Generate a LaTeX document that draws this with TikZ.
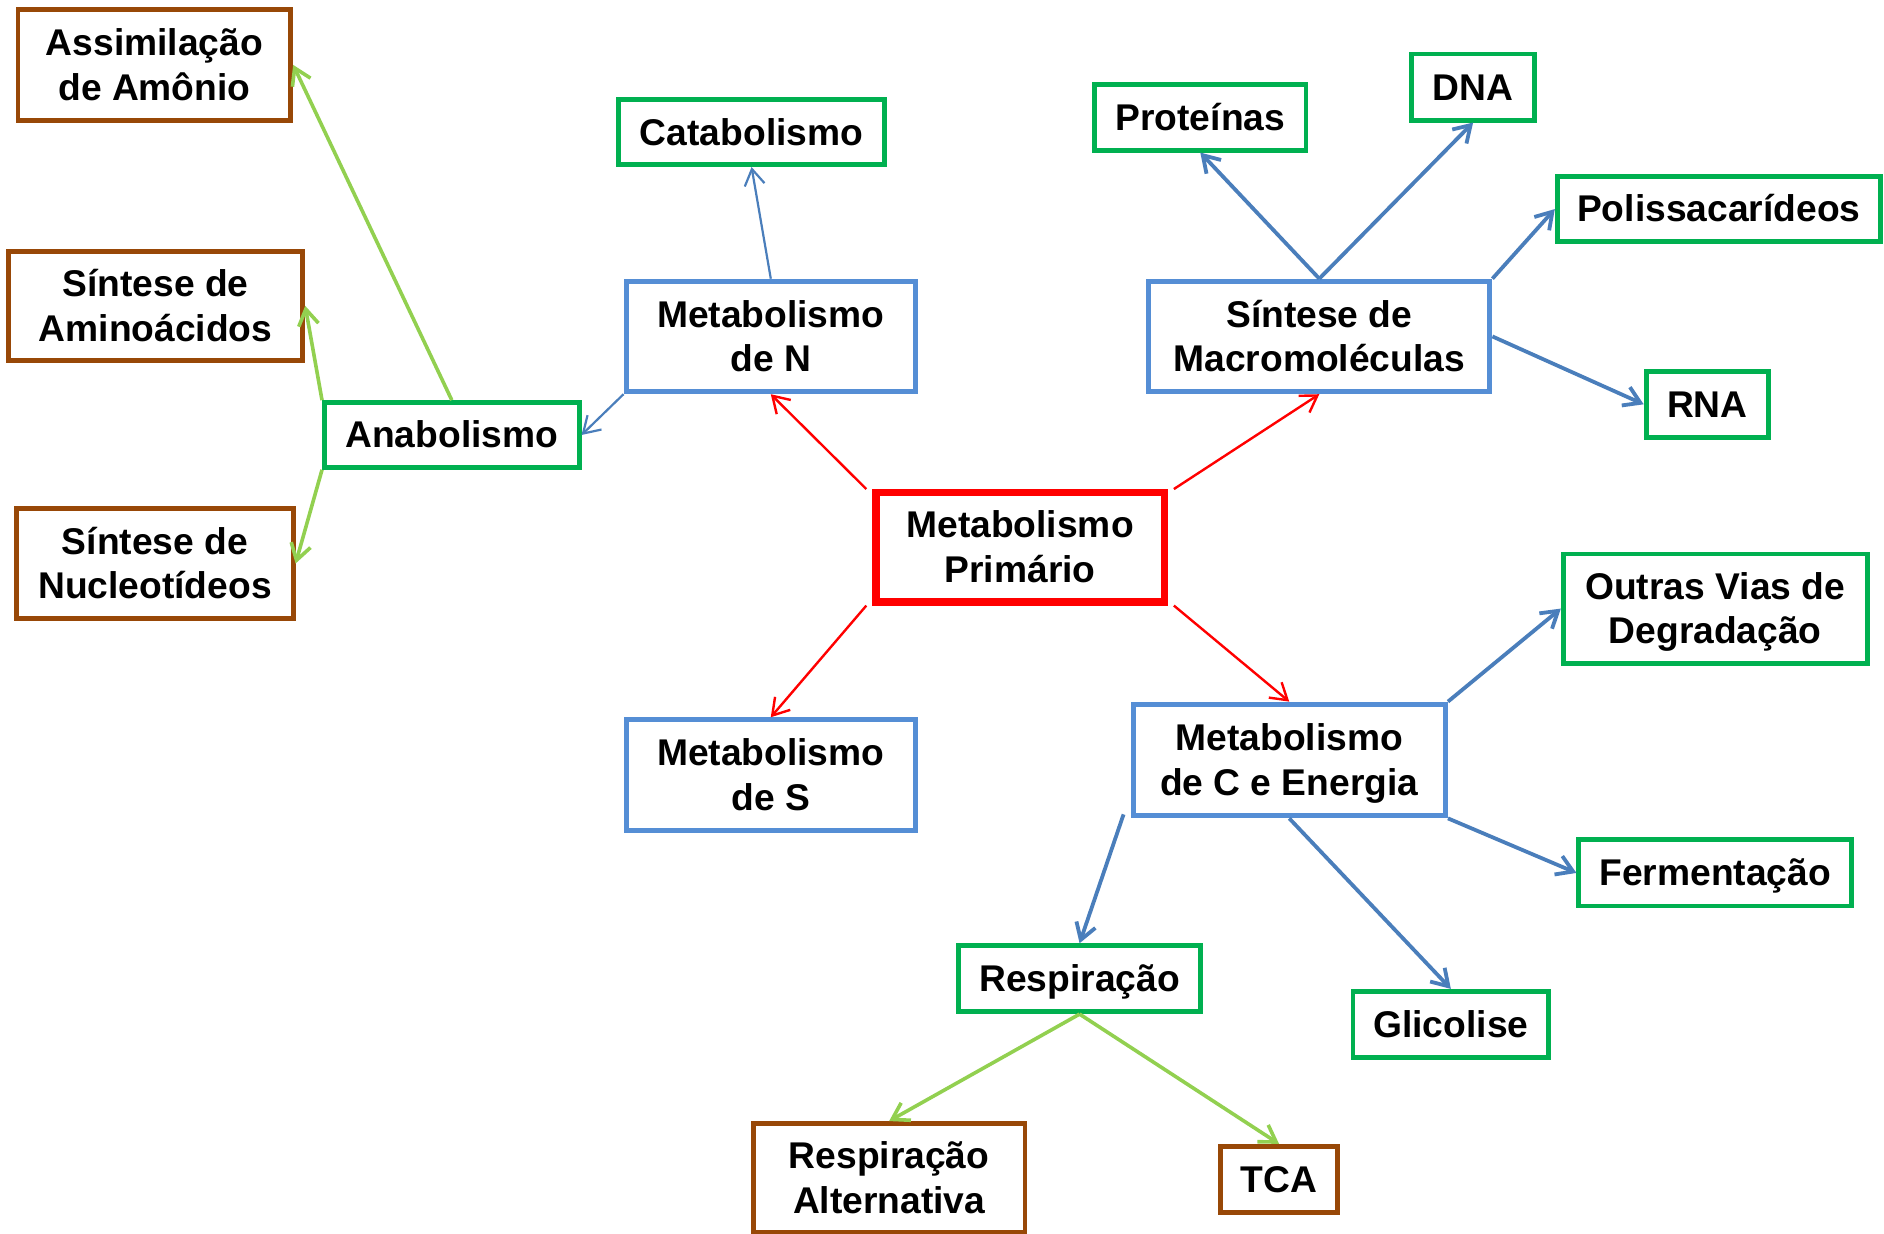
\documentclass[tikz,border=0pt]{standalone}
\usepackage{fontspec}
\setmainfont{Liberation Sans}
\usetikzlibrary{arrows.meta}
\definecolor{cblue}{HTML}{558ED5}
\definecolor{cblueline}{HTML}{4A7EBB}
\definecolor{cgreen}{HTML}{00B050}
\definecolor{cbrown}{HTML}{984807}
\definecolor{clgreen}{HTML}{92D050}
\definecolor{cred}{HTML}{FF0000}
\newcommand\bx[7]{\node[#6, minimum width={(#4-#2)*0.6008pt}, minimum height={(#5-#3)*0.6008pt}] (#1) at ({(#2+#4)/2},{(#3+#5)/2}) {\raisebox{-2pt}[\height][\depth]{\begin{tabular}{@{}c@{}}#7\end{tabular}}};}
\tikzset{
  box/.style={draw, rectangle, inner sep=0pt, font=\fontsize{18.6pt}{22.3pt}\selectfont\bfseries, fill=white},
  bluebox/.style={box, draw=cblue, line width=2.5pt},
  greenbox/.style={box, draw=cgreen, line width=2.4pt},
  brownbox/.style={box, draw=cbrown, line width=2.4pt},
  redbox/.style={box, draw=cred, line width=3.6pt},
  arr/.style={-{Straight Barb[length=8pt,width=10pt]}},
  redarr/.style={arr, draw=cred, line width=1.2pt},
  bluearr/.style={arr, draw=cblueline, line width=1.9pt},
  thinblue/.style={arr, draw=cblueline, line width=1.1pt},
  lgarr/.style={arr, draw=clgreen, line width=1.8pt},
}
\begin{document}
\begin{tikzpicture}[x=0.6008pt, y=-0.6008pt]
\useasboundingbox (0,0) rectangle (1568,1027);
% boxes
\bx{assim}{15}{8}{242}{100}{brownbox}{Assimilação\\de Amônio}
\bx{amino}{7}{209}{252}{300}{brownbox}{Síntese de\\Aminoácidos}
\bx{nucl}{14}{423}{244}{515}{brownbox}{Síntese de\\Nucleotídeos}
\bx{anab}{270}{335}{482}{389}{greenbox}{Anabolismo}
\bx{cata}{515}{83}{736}{137}{greenbox}{Catabolismo}
\bx{metN}{521}{234}{762}{326}{bluebox}{Metabolismo\\de N}
\bx{prim}{729}{410}{969}{501}{redbox}{Metabolismo\\Primário}
\bx{metS}{521}{599}{762}{691}{bluebox}{Metabolismo\\de S}
\bx{prot}{911}{70}{1087}{125}{greenbox}{Proteínas}
\bx{dna}{1175}{45}{1277}{100}{greenbox}{DNA}
\bx{polis}{1296}{147}{1565}{201}{greenbox}{Polissacarídeos}
\bx{macro}{956}{234}{1240}{326}{bluebox}{Síntese de\\Macromoléculas}
\bx{rna}{1370}{309}{1472}{364}{greenbox}{RNA}
\bx{outras}{1301}{461}{1554}{552}{greenbox}{Outras Vias de\\Degradação}
\bx{metC}{943}{586}{1203}{679}{bluebox}{Metabolismo\\de C e Energia}
\bx{ferm}{1314}{699}{1541}{754}{greenbox}{Fermentação}
\bx{glic}{1126}{825}{1289}{880}{greenbox}{Glicolise}
\bx{resp}{798}{787}{999}{842}{greenbox}{Respiração}
\bx{ralt}{627}{935}{853}{1026}{brownbox}{Respiração\\Alternativa}
\bx{tca}{1016}{954}{1113}{1009}{brownbox}{TCA}
% connectors
\draw[redarr] ([xshift=-3pt]prim.north west) -- (metN.south);
\draw[redarr] ([xshift=3pt]prim.north east) -- (macro.south);
\draw[redarr] ([xshift=-3pt]prim.south west) -- (metS.north);
\draw[redarr] ([xshift=3pt]prim.south east) -- (metC.north);
\draw[thinblue] (metN.north) -- (cata.south);
\draw[thinblue] (metN.south west) -- (anab.east);
\draw[lgarr] (anab.north) -- (assim.east);
\draw[lgarr] (anab.north west) -- (amino.east);
\draw[lgarr] (anab.south west) -- (nucl.east);
\draw[bluearr] (macro.north) -- (prot.south);
\draw[bluearr] (macro.north) -- (dna.south);
\draw[bluearr] (macro.north east) -- (polis.west);
\draw[bluearr] (macro.east) -- (rna.west);
\draw[bluearr] (metC.north east) -- (outras.west);
\draw[bluearr] (metC.south east) -- (ferm.west);
\draw[bluearr] (metC.south) -- (glic.north);
\draw[bluearr] ([xshift=-3.5pt,yshift=2pt]metC.south west) -- (resp.north);
\draw[lgarr] (resp.south) -- (ralt.north);
\draw[lgarr] (resp.south) -- (tca.north);
\end{tikzpicture}
\end{document}
